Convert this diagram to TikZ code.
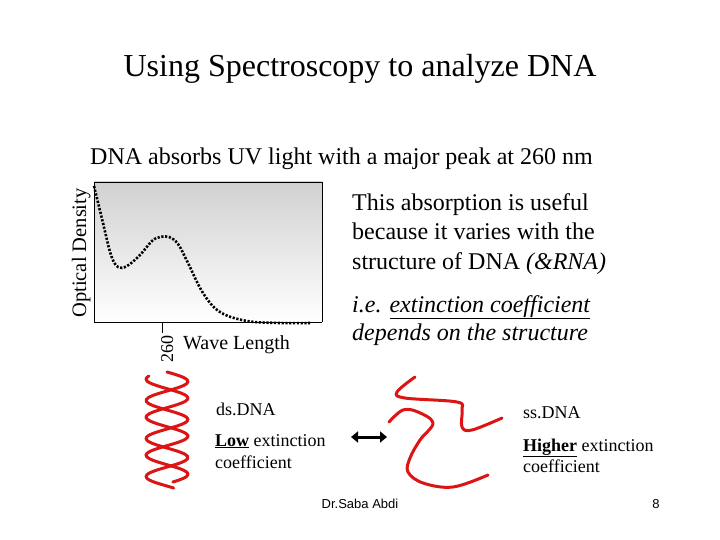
\documentclass[tikz,border=0pt]{standalone}
\usepackage{fontspec}
\setmainfont{Liberation Serif}
\newfontfamily\arialf{Liberation Sans}
\usetikzlibrary{arrows.meta}
\begin{document}
\begin{tikzpicture}[x=1pt,y=-1pt,
  txt/.style={anchor=base west,inner sep=0pt,font=\fontsize{24}{28}\selectfont},
  sm/.style={anchor=base west,inner sep=0pt,font=\fontsize{18}{21}\selectfont},
  redline/.style={draw={rgb,255:red,220;green,20;blue,20},line width=3pt,line cap=round,line join=round}]
\useasboundingbox (0,0) rectangle (720,540);
\node[anchor=base,inner sep=0pt,font=\fontsize{32}{36}\selectfont] (title) at (360,77) {Using Spectroscopy to analyze DNA};
\node[txt] (sub) at (90,165) {DNA absorbs UV light with a major peak at 260 nm};
% graph
\shade[top color=black!18,bottom color=white] (94,182) rectangle (322,322);
\draw[line width=1pt] (94,182) -- (94,322) -- (322,322);
\draw[line width=0.6pt] (94,182) -- (322,182) -- (322,322);
\draw[line width=1pt] (162,322) -- (162,333);
\node[rotate=90,anchor=base east,inner sep=0pt,font=\fontsize{18}{20}\selectfont] (t260) at (173,335) {260};
\node[anchor=base west,inner sep=0pt,font=\fontsize{20}{23}\selectfont] (wl) at (183,349) {Wave Length};
\node[rotate=90,anchor=base,inner sep=0pt,font=\fontsize{20.5}{23}\selectfont] (od) at (86,253) {Optical Density};
\draw[line width=2.6pt,dash pattern=on 2.2pt off 1.6pt] plot[smooth,tension=0.6] coordinates {(94,186) (103,223) (111,255) (118,267) (127,266) (140,255) (152,241) (160,237) (169,237) (178,244) (188,263) (203,293) (220,312) (247,321) (280,323) (310,323)};
% right text
\node[txt] (a1) at (352,211) {This absorption is useful};
\node[txt] (a2) at (352,240) {because it varies with the};
\node[txt] (a3) at (352,269) {structure of DNA \textit{(\&RNA)}};
\node[txt,font=\fontsize{24}{28}\selectfont\itshape] (b1) at (352,312) {i.e. \underline{extinction coefficient}};
\node[txt,font=\fontsize{24}{28}\selectfont\itshape] (b2) at (352,340) {depends on the structure};
% helix
\draw[redline] plot[smooth,samples=60,domain=0:116,variable=\t] ({167+21*sin(\t*9.47)},{372+\t});
\draw[redline] plot[smooth,samples=60,domain=0:106,variable=\t] ({167-21*sin(\t*9.47+60)},{376+\t});
% single strand
\draw[redline] plot[smooth,tension=0.6] coordinates {(415,377) (397,392) (405,398) (457,402) (462,410) (462,427) (472,430) (502,418)};
\draw[redline] plot[smooth,tension=0.6] coordinates {(389,422) (403,410) (418,412) (433,423) (420,440) (410,458) (408,472) (423,483) (453,487) (488,475)};
% labels
\node[sm] (ds) at (216,415) {ds.DNA};
\node[sm] (low1) at (215,446) {\textbf{\underline{Low}} extinction};
\node[sm] (low2) at (215,468) {coefficient};
\node[sm] (ss) at (523,418) {ss.DNA};
\node[sm] (hi1) at (523,451) {\textbf{\underline{Higher}} extinction};
\node[sm] (hi2) at (523,472) {coefficient};
\coordinate (l) at (351,437);
\coordinate (r) at (387,437);
\draw[line width=3pt,{Triangle[length=7pt,width=11pt]}-{Triangle[length=7pt,width=11pt]}] (l) -- (r);
\node[anchor=base,inner sep=0pt,font=\arialf\fontsize{13}{15}\selectfont] (dr) at (360,508) {Dr.Saba Abdi};
\node[anchor=base,inner sep=0pt,font=\arialf\fontsize{13}{15}\selectfont] (pg) at (656,508) {8};
\end{tikzpicture}
\end{document}
